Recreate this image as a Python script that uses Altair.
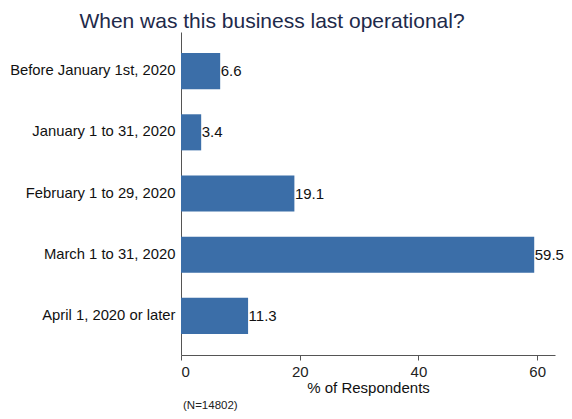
import altair as alt
import pandas as pd

categories = [
    "Before January 1st, 2020",
    "January 1 to 31, 2020",
    "February 1 to 29, 2020",
    "March 1 to 31, 2020",
    "April 1, 2020 or later",
]
values = [6.6, 3.4, 19.1, 59.5, 11.3]
x_ticks = [0, 20, 40, 60]
note_text = ["(N=14802)"]

df = pd.DataFrame({"cat": categories, "val": values})
df["label"] = [f"{v:.1f}" for v in values]

BAR = "#3b6ea8"

y_enc = alt.Y(
    "cat:N",
    sort=categories,
    title=None,
    scale=alt.Scale(paddingInner=0.41, paddingOuter=0.345),
    axis=alt.Axis(
        ticks=False,
        domainColor="#555555",
        labelFontSize=14.8,
        labelColor="#111111",
        labelFont="Liberation Sans",
        labelPadding=6,
        labelLimit=300,
    ),
)
x_enc = alt.X(
    "val:Q",
    title="% of Respondents",
    scale=alt.Scale(domain=[0, 63], nice=False, zero=True),
    axis=alt.Axis(
        values=x_ticks,
        format="d",
        grid=False,
        tickSize=5,
        tickColor="#555555",
        domainColor="#555555",
        labelFontSize=15,
        labelColor="#222222",
        labelFont="Liberation Sans",
        labelPadding=4,
        titleFontSize=15,
        titleFont="Liberation Sans",
        titleFontWeight="normal",
        titleColor="#111111",
        titlePadding=1,
    ),
)

bars = alt.Chart(df).mark_bar(color=BAR).encode(x=x_enc, y=y_enc)

labels = alt.Chart(df).mark_text(
    align="left", baseline="middle", dx=0.5, fontSize=15,
    font="Liberation Sans", color="#111111"
).encode(x="val:Q", y=alt.Y("cat:N", sort=categories), text="label:N")

note = alt.Chart(pd.DataFrame({"t": note_text})).mark_text(
    align="left", baseline="middle", fontSize=11.5,
    font="Liberation Sans", color="#222222"
).encode(x=alt.value(2), y=alt.value(374), text="t:N")

chart = alt.layer(bars, labels, note).properties(
    width=374,
    height=323,
    autosize=alt.AutoSizeParams(type="none"),
    padding={"left": 173, "top": 24, "right": 9, "bottom": 56},
    title=alt.TitleParams(
        "When was this business last operational?",
        fontSize=21,
        font="Liberation Sans",
        fontWeight="normal",
        color="#1e2a4a",
        anchor="middle",
        dx=-96,
        offset=0,
    ),
).configure_view(stroke=None)

chart.save("out.html", embed_options={"renderer": "svg", "actions": False})
